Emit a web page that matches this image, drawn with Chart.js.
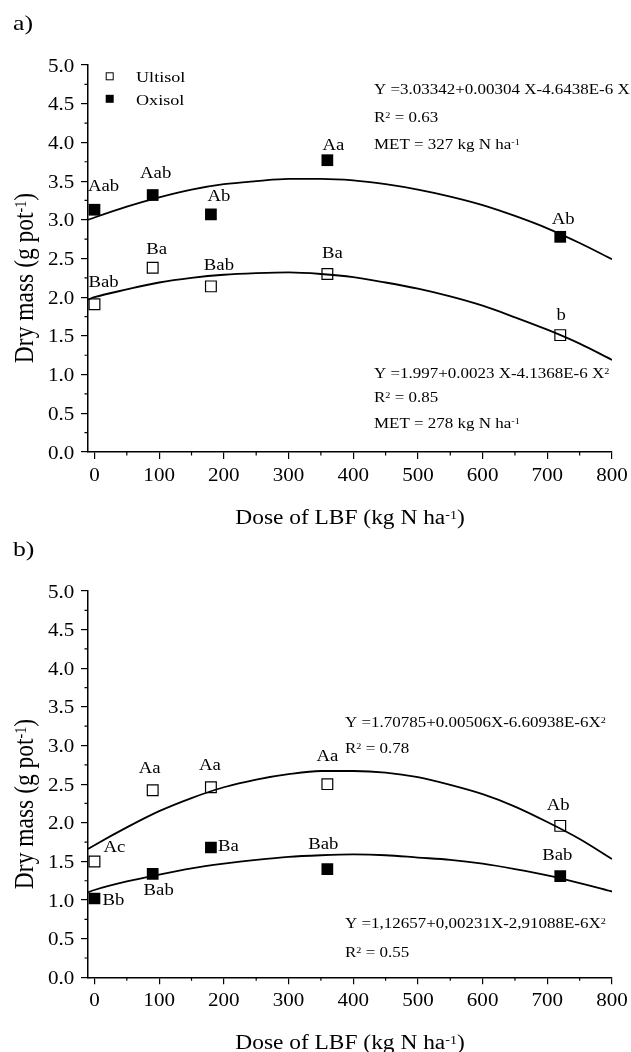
<!DOCTYPE html>
<html>
<head>
<meta charset="utf-8">
<script src="https://cdn.jsdelivr.net/npm/chart.js"></script>
<style>
  body { margin: 0; background: #fff; }
  canvas { display: block; }
</style>
</head>
<body>
<canvas id="chartA" width="631" height="532"></canvas>
<canvas id="chartB" width="631" height="520"></canvas>
<script>
// measured points (dose of LBF, kg N/ha)
const doses = [0, 90, 180, 360, 720];
const ultisolA = [1.91, 2.38, 2.14, 2.30, 1.51];
const oxisolA = [3.13, 3.32, 3.07, 3.77, 2.78];
const ultisolB = [1.50, 2.42, 2.46, 2.50, 1.96];
const oxisolB = [1.02, 1.34, 1.68, 1.40, 1.31];

// fitted curves
const curveX = [-10, 0, 50, 100, 150, 200, 250, 300, 350, 400, 450, 500, 550, 600, 650, 700, 750, 800];
const fitOxisolA = [3.00, 3.03, 3.17, 3.29, 3.39, 3.46, 3.50, 3.53, 3.53, 3.51, 3.46, 3.39, 3.30, 3.19, 3.05, 2.89, 2.70, 2.49];
const fitUltisolA = [1.97, 2.00, 2.10, 2.19, 2.25, 2.29, 2.31, 2.32, 2.30, 2.26, 2.19, 2.11, 2.01, 1.89, 1.74, 1.58, 1.40, 1.19];
const fitUltisolB = [1.66, 1.71, 1.94, 2.15, 2.32, 2.46, 2.56, 2.63, 2.67, 2.67, 2.65, 2.59, 2.49, 2.37, 2.21, 2.01, 1.79, 1.53];
const fitOxisolB = [1.10, 1.13, 1.24, 1.33, 1.41, 1.47, 1.52, 1.56, 1.58, 1.59, 1.58, 1.55, 1.52, 1.47, 1.40, 1.32, 1.22, 1.11];

// letters of the mean comparison test
const lettersUltisolA = ['Bab', 'Ba', 'Bab', 'Ba', 'b'];
const lettersOxisolA = ['Aab', 'Aab', 'Ab', 'Aa', 'Ab'];
const lettersUltisolB = ['Ac', 'Aa', 'Aa', 'Aa', 'Ab'];
const lettersOxisolB = ['Bb', 'Bab', 'Ba', 'Bab', 'Bab'];

// ticks
const xTicks = [0, 100, 200, 300, 400, 500, 600, 700, 800];
const xMinor = [50, 150, 250, 350, 450, 550, 650, 750];
const yTicks = [0, 0.5, 1, 1.5, 2, 2.5, 3, 3.5, 4, 4.5, 5];
const yMinor = [0.25, 0.75, 1.25, 1.75, 2.25, 2.75, 3.25, 3.75, 4.25, 4.75];

const FONT = "'Liberation Serif', 'Times New Roman', serif";
const SX = 1.17; // the original figure is a bit stretched sideways

// runs: [[text, isSuperscript], ...]
function textRuns(ctx, runs, x, y, size, align, rotate) {
  ctx.save();
  ctx.translate(x, y);
  if (rotate) {
    ctx.rotate(-Math.PI / 2);
    ctx.scale(1, SX);
  } else {
    ctx.scale(SX, 1);
  }
  ctx.textAlign = 'left';
  ctx.textBaseline = 'alphabetic';
  ctx.fillStyle = '#000';
  let w = 0;
  runs.forEach(([t, sup]) => {
    ctx.font = (sup ? size * 0.6 : size) + 'px ' + FONT;
    w += ctx.measureText(t).width;
  });
  let cx = align === 'center' ? -w / 2 : align === 'right' ? -w : 0;
  runs.forEach(([t, sup]) => {
    ctx.font = (sup ? size * 0.6 : size) + 'px ' + FONT;
    ctx.fillText(t, cx, sup ? -size * 0.26 : 0);
    cx += ctx.measureText(t).width;
  });
  ctx.restore();
}

const decor = {
  id: 'decor',
  afterDraw(chart, args, opts) {
    const ctx = chart.ctx;
    const xs = chart.scales.x;
    const ys = chart.scales.y;
    const area = chart.chartArea;
    ctx.save();

    // minor ticks
    ctx.strokeStyle = '#000';
    ctx.lineWidth = 1.2;
    ctx.beginPath();
    xMinor.forEach(v => {
      const p = xs.getPixelForValue(v);
      ctx.moveTo(p, area.bottom);
      ctx.lineTo(p, area.bottom + 3.5);
    });
    yMinor.forEach(v => {
      const p = ys.getPixelForValue(v);
      ctx.moveTo(area.left, p);
      ctx.lineTo(area.left - 3.5, p);
    });
    ctx.stroke();

    // tick labels
    xs.ticks.forEach(t => {
      textRuns(ctx, [[String(t.value)]], xs.getPixelForValue(t.value), area.bottom + 28.5, 18, 'center');
    });
    ys.ticks.forEach(t => {
      textRuns(ctx, [[t.value.toFixed(1)]], area.left - 13.7, ys.getPixelForValue(t.value) + 6.5, 18, 'right');
    });

    // axis titles
    textRuns(ctx, [['Dose of LBF (kg N ha'], ['-1', true], [')']],
      (area.left + area.right) / 2, area.bottom + 72, 20, 'center');
    textRuns(ctx, [['Dry mass (g pot'], ['-1', true], [')']],
      33, area.top + 213, 23.5, 'center', true);

    // panel label
    textRuns(ctx, [[opts.panel]], 13, opts.panelY, 22, 'left');

    // letters next to points
    opts.letters.forEach(s => {
      s.values.forEach((v, i) => {
        const px = xs.getPixelForValue(doses[i]);
        const py = ys.getPixelForValue(v);
        textRuns(ctx, [[s.text[i]]], px + s.dx[i], py + s.dy[i], 16, s.align[i]);
      });
    });

    // legend
    if (opts.legend) {
      ctx.strokeStyle = '#000';
      ctx.lineWidth = 1;
      ctx.strokeRect(106.2, 72.8, 7, 7);
      ctx.fillStyle = '#000';
      ctx.fillRect(105.7, 94.8, 8, 8);
      textRuns(ctx, [['Ultisol']], 136, 82.3, 15.5, 'left');
      textRuns(ctx, [['Oxisol']], 136, 105, 15.5, 'left');
    }

    // regression equations
    opts.equations.forEach(e => textRuns(ctx, e.runs, e.x, e.y, 14.5, 'left'));

    ctx.restore();
  },
};

function pts(xv, yv) {
  return xv.map((x, i) => ({x: x, y: yv[i]}));
}

function makeChart(id, cfg) {
  return new Chart(document.getElementById(id), {
    type: 'scatter',
    data: {
      datasets: [
        {
          label: 'Ultisol',
          data: pts(doses, cfg.ultisol),
          pointStyle: 'rect',
          pointRadius: 7.6,
          borderColor: '#000',
          borderWidth: 1.2,
          backgroundColor: 'rgba(0,0,0,0)',
        },
        {
          label: 'Oxisol',
          data: pts(doses, cfg.oxisol),
          pointStyle: 'rect',
          pointRadius: 8.3,
          borderColor: '#000',
          borderWidth: 0,
          backgroundColor: '#000',
        },
        {
          label: 'fit Ultisol',
          data: pts(curveX, cfg.fitUltisol),
          showLine: true,
          cubicInterpolationMode: 'monotone',
          pointRadius: 0,
          borderColor: '#000',
          borderWidth: 1.8,
          fill: false,
        },
        {
          label: 'fit Oxisol',
          data: pts(curveX, cfg.fitOxisol),
          showLine: true,
          cubicInterpolationMode: 'monotone',
          pointRadius: 0,
          borderColor: '#000',
          borderWidth: 1.8,
          fill: false,
        },
      ],
    },
    options: {
      responsive: false,
      animation: false,
      events: [],
      layout: {
        padding: {left: 0, right: 19, top: cfg.top, bottom: 0},
      },
      plugins: {
        legend: {display: false},
        tooltip: {enabled: false},
        decor: cfg.decor,
      },
      scales: {
        x: {
          type: 'linear',
          min: -10,
          max: 800,
          afterBuildTicks: s => { s.ticks = xTicks.map(v => ({value: v})); },
          afterFit: s => { s.height = cfg.xAxisHeight; },
          ticks: {display: false},
          grid: {drawOnChartArea: false, drawTicks: true, tickLength: 7, color: '#000', lineWidth: 1.2},
          border: {display: true, color: '#000', width: 1.5},
        },
        y: {
          type: 'linear',
          min: 0,
          max: 5,
          afterBuildTicks: s => { s.ticks = yTicks.map(v => ({value: v})); },
          afterFit: s => { s.width = 88; },
          ticks: {display: false},
          grid: {drawOnChartArea: false, drawTicks: true, tickLength: 7, color: '#000', lineWidth: 1.2},
          border: {display: true, color: '#000', width: 1.5},
        },
      },
    },
    plugins: [decor],
  });
}

makeChart('chartA', {
  ultisol: ultisolA,
  oxisol: oxisolA,
  fitUltisol: fitUltisolA,
  fitOxisol: fitOxisolA,
  top: 65,
  xAxisHeight: 80,
  decor: {
    panel: 'a)',
    panelY: 30,
    legend: true,
    letters: [
      {values: oxisolA, text: lettersOxisolA, dx: [9, 3, 8, 6, 3], dy: [-19, -17, -13, -10, -13],
        align: ['center', 'center', 'center', 'center', 'center']},
      {values: ultisolA, text: lettersUltisolA, dx: [9, 4, 8, 5, 1], dy: [-17, -14, -16, -16, -15],
        align: ['center', 'center', 'center', 'center', 'center']},
    ],
    equations: [
      {x: 374, y: 94, runs: [['Y =3.03342+0.00304 X-4.6438E-6 X']]},
      {x: 374, y: 122, runs: [['R'], ['2', true], [' = 0.63']]},
      {x: 374, y: 149, runs: [['MET = 327 kg N ha'], ['-1', true]]},
      {x: 374, y: 378, runs: [['Y =1.997+0.0023 X-4.1368E-6 X'], ['2', true]]},
      {x: 374, y: 402, runs: [['R'], ['2', true], [' = 0.85']]},
      {x: 374, y: 428, runs: [['MET = 278 kg N ha'], ['-1', true]]},
    ],
  },
});

makeChart('chartB', {
  ultisol: ultisolB,
  oxisol: oxisolB,
  fitUltisol: fitUltisolB,
  fitOxisol: fitOxisolB,
  top: 59,
  xAxisHeight: 74.7,
  decor: {
    panel: 'b)',
    panelY: 24,
    legend: false,
    letters: [
      {values: ultisolB, text: lettersUltisolB, dx: [9, -3, -1, 0, -2], dy: [-9, -17, -17, -23, -16],
        align: ['left', 'center', 'center', 'center', 'center']},
      {values: oxisolB, text: lettersOxisolB, dx: [8, 6, 7, -4, -3], dy: [7, 21, 3, -20, -16],
        align: ['left', 'center', 'left', 'center', 'center']},
    ],
    equations: [
      {x: 345, y: 195, runs: [['Y =1.70785+0.00506X-6.60938E-6X'], ['2', true]]},
      {x: 345, y: 221, runs: [['R'], ['2', true], [' = 0.78']]},
      {x: 345, y: 396, runs: [['Y =1,12657+0,00231X-2,91088E-6X'], ['2', true]]},
      {x: 345, y: 425, runs: [['R'], ['2', true], [' = 0.55']]},
    ],
  },
});
</script>
</body>
</html>
